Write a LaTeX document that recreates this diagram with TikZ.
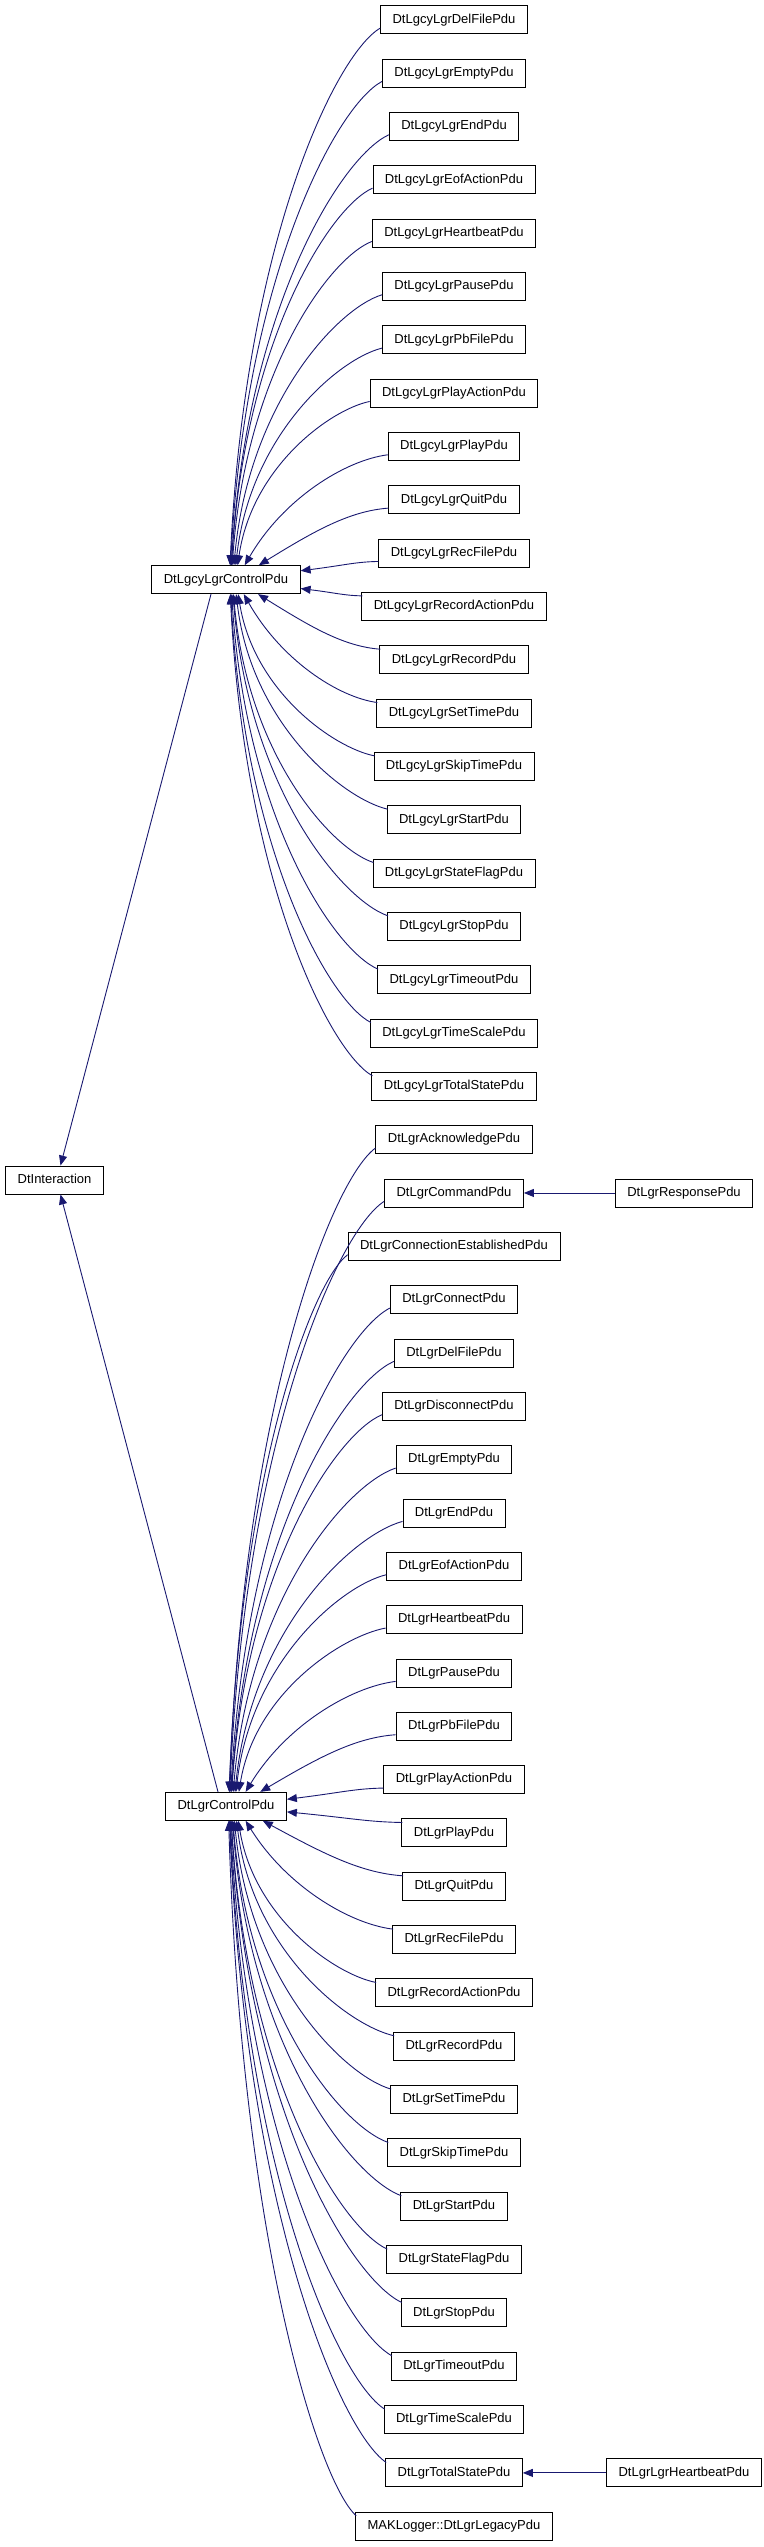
\documentclass[tikz,border=0pt]{standalone}
\usepackage{fontspec}
\setmainfont{Liberation Sans}
\usetikzlibrary{arrows.meta,calc}
\definecolor{edgeblue}{HTML}{191970}
\tikzset{
  cls/.style={draw=black, line width=0.9pt, fill=white, font=\fontsize{13}{15}\selectfont,
    minimum height=28pt, inner xsep=12pt, inner ysep=0pt, text height=9.5pt, text depth=2.8pt},
  inh/.style={draw=edgeblue, line width=0.9pt, {Triangle[length=10pt,width=8pt]}-},
}
\newcommand\inhcurve[2]{%
  \path (#1) -- (tmpE) coordinate[pos=0] (tmpS);
  \draw[inh] let \p1=(tmpS), \p2=(tmpE), \n1={max(0.1,0.6*(1-abs(\y2-\y1)/200))} in
    (\p1) .. controls ({\x1+\n1*(\x2-\x1)},{\y1+0.6*(\y2-\y1)}) and ({\x2-0.3*(\x2-\x1)},{\y2-0.05*(\y2-\y1)}) .. (\p2);
}
\newcommand\inhup[2]{%
  \coordinate (tmpE) at ($(#2.south west)+(0,-6)$);
  \inhcurve{#1}{#2}}
\newcommand\inhdn[2]{%
  \coordinate (tmpE) at ($(#2.north west)+(1,4)$);
  \inhcurve{#1}{#2}}
\begin{document}
\begin{tikzpicture}[x=1pt,y=-1pt]
\useasboundingbox (0,0) rectangle (763,2547);
\node[cls] (DtInteraction) at (54.5,1180) {DtInteraction};
\node[cls] (lcCtl) at (226,579.7) {DtLgcyLgrControlPdu};
\node[cls] (lgCtl) at (226,1806.3) {DtLgrControlPdu};
\foreach \cname [count=\r from 0] in {DelFile,Empty,End,EofAction,Heartbeat,Pause,PbFile,PlayAction,Play,Quit,RecFile,RecordAction,Record,SetTime,SkipTime,Start,StateFlag,Stop,Timeout,TimeScale,TotalState}
  \node[cls] (lc\r) at (454,{19.7+53.33*\r}) {DtLgcyLgr\cname Pdu};
\foreach \cname [count=\r from 21] in {Acknowledge,Command,ConnectionEstablished,Connect,DelFile,Disconnect,Empty,End,EofAction,Heartbeat,Pause,PbFile,PlayAction,Play,Quit,RecFile,RecordAction,Record,SetTime,SkipTime,Start,StateFlag,Stop,Timeout,TimeScale,TotalState}
  \node[cls] (lg\r) at (454,{19.7+53.33*\r}) {DtLgr\cname Pdu};
\node[cls] (lg47) at (454,{19.7+53.33*47}) {MAKLogger::DtLgrLegacyPdu};
\node[cls] (resp) at (684,{19.7+53.33*22}) {DtLgrResponsePdu};
\node[cls] (lghb) at (684,{19.7+53.33*46}) {DtLgrLgrHeartbeatPdu};
% edges
\foreach \r in {0,...,10} {\inhup{lcCtl}{lc\r}}
\foreach \r in {11,...,20} {\inhdn{lcCtl}{lc\r}}
\foreach \r in {21,...,33} {\inhup{lgCtl}{lg\r}}
\foreach \r in {34,...,47} {\inhdn{lgCtl}{lg\r}}
\draw[inh] (lg22) -- (resp);
\draw[inh] (lg46) -- (lghb);
\draw[inh] ($(DtInteraction.north)+(6,0)$) -- ($(lcCtl.south)+(-15,0)$);
\draw[inh] ($(DtInteraction.south)+(6,0)$) -- ($(lgCtl.north)+(-8,0)$);
\end{tikzpicture}
\end{document}
